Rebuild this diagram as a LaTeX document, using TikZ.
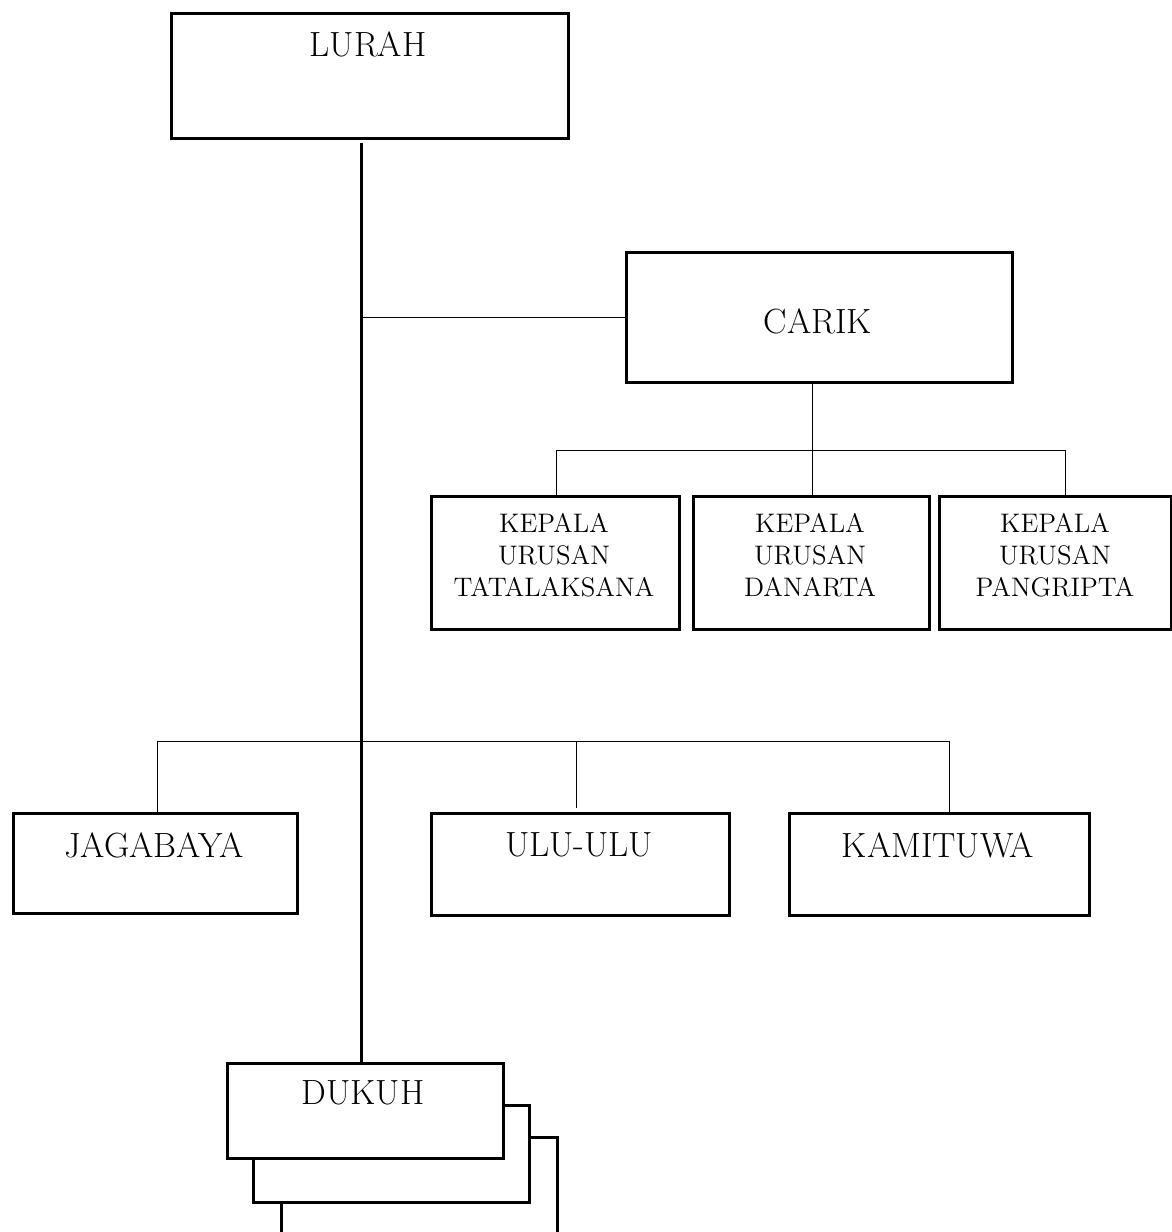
\documentclass[tikz,border=0pt]{standalone}
\begin{document}
\begin{tikzpicture}[x=0.5pt,y=-0.5pt,
  box/.style={draw,line width=1.5pt,fill=white,inner sep=0pt,anchor=north west},
  big/.style={font=\fontsize{17.5}{21}\selectfont,inner sep=0pt},
  small/.style={font=\fontsize{13.4}{16}\selectfont,align=center,inner sep=0pt},
  thin/.style={line width=0.5pt},
  thick/.style={line width=1.5pt}]
\useasboundingbox (0,0) rectangle (1172,1232);
% boxes
\node[box,minimum width=198.5pt,minimum height=62.5pt] (lurah) at (170,12) {};
\node[big] (tlurah) at (368,44) {LURAH};
\node[box,minimum width=193pt,minimum height=65pt] (carik) at (625,251) {};
\node[big] (tcarik) at (818,321) {CARIK};
\node[box,minimum width=124pt,minimum height=66.5pt] (k1) at (430,495) {};
\node[small] (tk1) at (554,555) {KEPALA\\URUSAN\\TATALAKSANA};
\node[box,minimum width=118pt,minimum height=66.5pt] (k2) at (692,495) {};
\node[small] (tk2) at (810,555) {KEPALA\\URUSAN\\DANARTA};
\node[box,minimum width=116pt,minimum height=66.5pt] (k3) at (938,495) {};
\node[small] (tk3) at (1055,555) {KEPALA\\URUSAN\\PANGRIPTA};
\node[box,minimum width=142pt,minimum height=50pt] (jag) at (12,812) {};
\node[big] (tjag) at (154,845) {JAGABAYA};
\node[box,minimum width=149pt,minimum height=51pt] (ulu) at (430,812) {};
\node[big] (tulu) at (579,845) {ULU-ULU};
\node[box,minimum width=150pt,minimum height=51pt] (kam) at (788,812) {};
\node[big] (tkam) at (938,845) {KAMITUWA};
% dukuh stack
\draw[thick] (281,1232) -- (281,1137) -- (557,1137) -- (557,1232);
\node[box,minimum width=138pt,minimum height=48.5pt] (dukuhb) at (252,1104) {};
\node[box,minimum width=138pt,minimum height=47.5pt] (dukuh) at (226,1062) {};
\node[big] (tdukuh) at (363,1093) {DUKUH};
% main line
\coordinate (top) at (361,143);
\draw[thick] (top) -- (top |- dukuh.north);
% carik branch
\draw[thin] (carik.west -| top) -- (carik.west);
\coordinate (cd) at (812,381);
\draw[thin] (cd) -- (812,495);
\draw[thin] (556,495) -- (556,450) -- (1065,450) -- (1065,495);
% second tier
\draw[thin] (157,812) -- (157,741) -- (949,741) -- (949,812);
\draw[thin] (576,741) -- (576,808);
\end{tikzpicture}
\end{document}
